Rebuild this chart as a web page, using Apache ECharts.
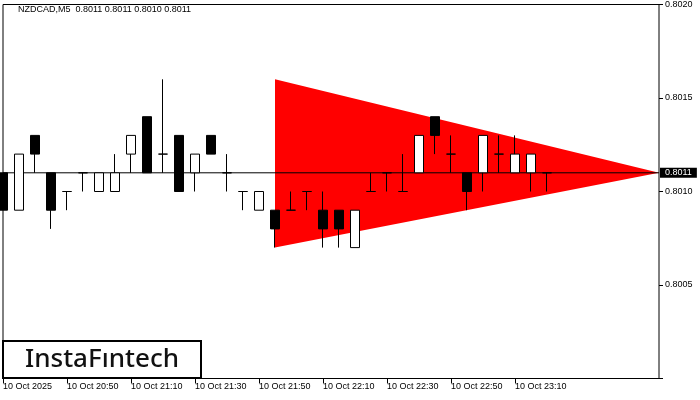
<!DOCTYPE html>
<html>
<head>
<meta charset="utf-8">
<script src="https://cdn.jsdelivr.net/npm/echarts@6/dist/echarts.min.js"></script>
<style>
html,body{margin:0;padding:0;background:#fff;}
#c{width:700px;height:400px;}
</style>
</head>
<body>
<div id="c"></div>
<script>
// ---- data ----
const times = ['20:30','20:35','20:40','20:45','20:50','20:55','21:00','21:05','21:10','21:15',
  '21:20','21:25','21:30','21:35','21:40','21:45','21:50','21:55','22:00','22:05',
  '22:10','22:15','22:20','22:25','22:30','22:35','22:40','22:45','22:50','22:55',
  '23:00','23:05','23:10','23:15','23:20','23:25','23:30','23:35','23:40','23:45','23:50','23:55'];
const opens  = [0.8011,0.8009,0.8013,0.8011,0.8010,0.8011,0.8010,0.8010,0.8012,0.8014,
  0.8012,0.8013,0.8011,0.8013,0.8011,0.8010,0.8009,0.8009,0.8009,0.8010,
  0.8009,0.8009,0.8007,0.8010,0.8011,0.8010,0.8011,0.8014,0.8012,0.8011,
  0.8011,0.8012,0.8011,0.8011,0.8011];
const highs  = [0.8011,0.8012,0.8013,0.8011,0.8010,0.8011,0.8011,0.8012,0.8013,0.8014,
  0.8016,0.8013,0.8012,0.8013,0.8012,0.8010,0.8010,0.8009,0.8010,0.8010,
  0.8010,0.8009,0.8009,0.8011,0.8011,0.8012,0.8013,0.8014,0.8013,0.8011,
  0.8013,0.8013,0.8013,0.8012,0.8011];
const lows   = [0.8009,0.8009,0.8011,0.8008,0.8009,0.8010,0.8010,0.8010,0.8011,0.8011,
  0.8011,0.8010,0.8010,0.8012,0.8010,0.8009,0.8009,0.8007,0.8009,0.8009,
  0.8007,0.8007,0.8007,0.8010,0.8010,0.8010,0.8011,0.8012,0.8011,0.8009,
  0.8010,0.8011,0.8011,0.8010,0.8010];
const closes = [0.8009,0.8012,0.8012,0.8009,0.8010,0.8011,0.8011,0.8011,0.8013,0.8011,
  0.8012,0.8010,0.8012,0.8012,0.8011,0.8010,0.8010,0.8008,0.8009,0.8010,
  0.8008,0.8008,0.8009,0.8010,0.8011,0.8010,0.8013,0.8013,0.8012,0.8010,
  0.8013,0.8012,0.8012,0.8012,0.8011];
const tickIdx = [0,4,8,12,16,20,24,28,32];
const tickLabels = ['10 Oct 2025','10 Oct 20:50','10 Oct 21:10','10 Oct 21:30','10 Oct 21:50',
  '10 Oct 22:10','10 Oct 22:30','10 Oct 22:50','10 Oct 23:10'];
const yTicks = [0.8005,0.8010,0.8015,0.8020];
const triX = [17,17,41];
const triY = [0.8016,0.8007,0.8011];
const lastPrice = 0.8011;
const titleText = 'NZDCAD,M5  0.8011 0.8011 0.8010 0.8011';

// ---- chart ----
const chart = echarts.init(document.getElementById('c'), null, {renderer:'canvas'});
const ohlc = opens.map((o,i)=>[o, closes[i], lows[i], highs[i]]);
const priceLine = times.map(()=>lastPrice);
const font = 'Liberation Sans, Arial, sans-serif';

chart.setOption({
  animation:false,
  backgroundColor:'#fff',
  grid:{left:3, right:41, top:4, bottom:21.5, show:true, borderColor:'#000', borderWidth:1, backgroundColor:'#fff'},
  xAxis:{
    type:'category', data:times, boundaryGap:false,
    axisLine:{show:false},
    axisTick:{show:true, length:5, lineStyle:{color:'#000'}, interval:(i)=>tickIdx.includes(i)},
    axisLabel:{show:true, interval:(i)=>tickIdx.includes(i), align:'left', margin:4,
      color:'#000', fontSize:9, fontFamily:font,
      formatter:(v,i)=>{const k=tickIdx.indexOf(i); return k>=0?tickLabels[k]:'';}},
    splitLine:{show:false}
  },
  yAxis:{
    type:'value', position:'right', min:0.8000, max:0.8020, interval:0.0005,
    axisLine:{show:false},
    axisTick:{show:true, length:4, lineStyle:{color:'#000'}},
    axisLabel:{color:'#000', fontSize:9, fontFamily:font, margin:6,
      formatter:(v)=>{const m=yTicks.find(t=>Math.abs(t-v)<1e-7); return m?m.toFixed(4):'';}},
    splitLine:{show:false}
  },
  series:[
    {
      type:'custom', z:1, silent:true,
      data: triX.map((x,i)=>[x, triY[i]]),
      encode:{x:0, y:1},
      renderItem:(params, api)=>{
        if (params.dataIndex !== 0) return null;
        const pts = triX.map((x,i)=>api.coord([x, triY[i]]));
        return {type:'polygon', shape:{points:pts}, style:{fill:'#ff0000', stroke:null}};
      }
    },
    {
      type:'line', z:2, data:priceLine, symbol:'none', silent:true, clip:false,
      lineStyle:{color:'#000', width:1},
      endLabel:{show:true, distance:1, formatter:()=>lastPrice.toFixed(4),
        backgroundColor:'#000', color:'#fff', fontSize:9, fontFamily:font, padding:[0,5], lineHeight:10}
    },
    {
      type:'candlestick', z:3, data:ohlc, barWidth:10,
      itemStyle:{color:'#fff', color0:'#000', borderColor:'#000', borderColor0:'#000', borderWidth:1}
    }
  ],
  graphic:[
    {type:'text', left:18, top:5, z:10, style:{text:titleText, fill:'#000', font:'9px Liberation Sans, Arial, sans-serif'}},
    {type:'rect', z:10, shape:{x:3, y:341, width:198, height:37}, style:{fill:'#fff', stroke:'#000', lineWidth:2}},
    {type:'text', z:11, x:102, y:360, style:{text:'InstaFıntech', fill:'#111', font:'500 26px "Noto Sans", sans-serif', align:'center', verticalAlign:'middle'}}
  ]
});
</script>
</body>
</html>
